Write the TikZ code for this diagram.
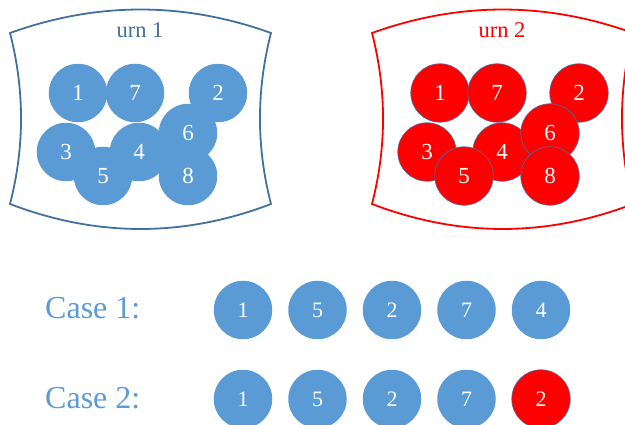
\documentclass[tikz,border=0pt]{standalone}
\usepackage{fontspec}
\setmainfont{Liberation Serif}
\definecolor{ballblue}{HTML}{5B9BD5}
\definecolor{urnblue}{HTML}{41719C}
\definecolor{ballred}{HTML}{FF0000}
\definecolor{rimblue}{HTML}{4A6FA5}
% urn outline: concave sides, bulging top and bottom
\newcommand\urnoutline[1]{%
  \draw[urnline, #1] (10,33) .. controls (97,1.7) and (184,1.7) .. (271,33)
    .. controls (256.3,90) and (256.3,147) .. (271,204)
    .. controls (184,237.3) and (97,237.3) .. (10,204)
    .. controls (24.7,147) and (24.7,90) .. cycle;}
\begin{document}
\begin{tikzpicture}[x=1pt,y=-1pt,
  ball/.style={circle, minimum size=58.5pt, inner sep=0pt, text=white,
    font=\fontsize{23}{23}\selectfont},
  blueball/.style={ball, fill=ballblue},
  redball/.style={ball, fill=ballred, draw=rimblue, line width=0.6pt},
  rowball/.style={font=\fontsize{22}{22}\selectfont},
  urnline/.style={line width=1.8pt},
  urntitle/.style={font=\fontsize{22.5}{22.5}\selectfont},
  caselabel/.style={anchor=base west, text=ballblue, inner sep=0pt,
    font=\fontsize{32}{32}\selectfont}]
\useasboundingbox (0,0) rectangle (625,425);

% urn 1
\urnoutline{urnblue}
\node[urntitle, text=urnblue] (t1) at (140,30) {urn 1};
\node[blueball] (a1) at (78,93) {1};
\node[blueball] (a7) at (135,93) {7};
\node[blueball] (a2) at (218,93) {2};
\node[blueball] (a3) at (66,152) {3};
\node[blueball] (a4) at (139,152) {4};
\node[blueball] (a6) at (188,133) {6};
\node[blueball] (a8) at (188,176) {8};
\node[blueball] (a5) at (103,176) {5};

% urn 2
\begin{scope}[xshift=362pt]
\urnoutline{ballred}
\node[urntitle, text=ballred] (t2) at (140,30) {urn 2};
\node[redball] (b1) at (78,93) {1};
\node[redball] (b7) at (135,93) {7};
\node[redball] (b2) at (217,93) {2};
\node[redball] (b3) at (65,152) {3};
\node[redball] (b4) at (140,152) {4};
\node[redball] (b6) at (188,133) {6};
\node[redball] (b8) at (188,176) {8};
\node[redball] (b5) at (102,176) {5};
\end{scope}

% drawn sequences
\node[caselabel] (c1) at (45,319) {Case 1:};
\node[blueball, rowball] (p1) at (243,310) {1};
\node[blueball, rowball] (p2) at (317.5,310) {5};
\node[blueball, rowball] (p3) at (392,310) {2};
\node[blueball, rowball] (p4) at (466.5,310) {7};
\node[blueball, rowball] (p5) at (541,310) {4};

\node[caselabel] (c2) at (45,408) {Case 2:};
\node[blueball, rowball] (q1) at (243,399) {1};
\node[blueball, rowball] (q2) at (317.5,399) {5};
\node[blueball, rowball] (q3) at (392,399) {2};
\node[blueball, rowball] (q4) at (466.5,399) {7};
\node[redball, rowball] (q5) at (541,399) {2};
\end{tikzpicture}
\end{document}
